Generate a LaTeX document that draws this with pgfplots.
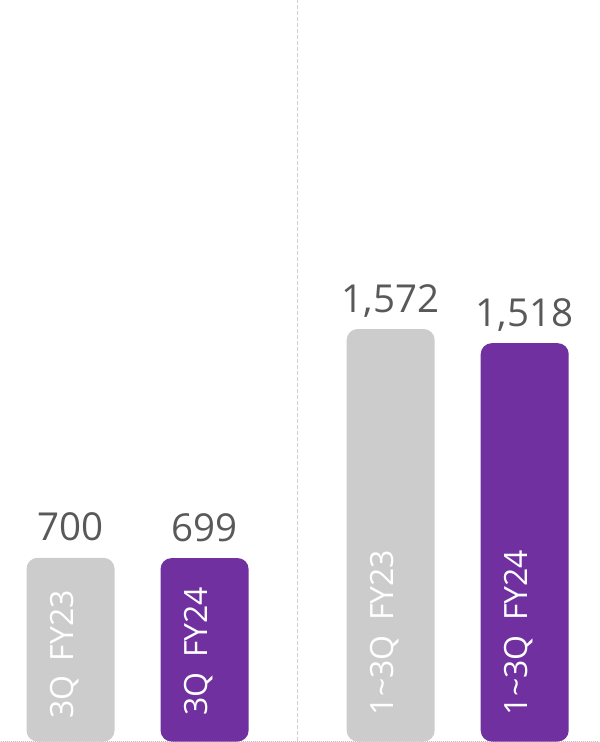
\documentclass[border=0pt]{standalone}
\usepackage{pgfplots}
\pgfplotsset{compat=1.18}
\usepackage{fontspec}
\setmainfont{Open Sans}
\definecolor{barGray}{HTML}{CCCCCC}
\definecolor{barPurple}{HTML}{7030A0}
\definecolor{valGray}{HTML}{595959}
\definecolor{lineGray}{HTML}{D0D0D0}
\begin{document}
\begin{tikzpicture}
\begin{axis}[
  width=598pt, height=742pt, scale only axis,
  xmin=0, xmax=598, ymin=-5, ymax=2824,
  axis lines=none, ticks=none,
  clip=false,
  ybar, bar width=88, bar shift=0pt,
  nodes near coords,
  nodes near coords style={font=\fontsize{38.5}{40}\selectfont, text=valGray, anchor=base, inner sep=0pt, yshift=17pt},
  /pgf/number format/1000 sep={,},
  /pgf/number format/assume math mode=true,
]
\draw[lineGray, dash pattern=on 4pt off 2pt, line width=1pt] (axis cs:297,0) -- (axis cs:297,2824);
\draw[lineGray!80!gray, dash pattern=on 1pt off 1pt, line width=1pt] (axis cs:0,0) -- (axis cs:598,0);
\addplot[fill=barGray, draw=none, rounded corners=11pt] coordinates {(70,700) (390,1572)};
\addplot[fill=barPurple, draw=none, rounded corners=11pt] coordinates {(204,699) (524,1518)};
\begin{scope}[every node/.style={font=\fontsize{32}{34}\selectfont, text=white, rotate=90, anchor=mid west, inner sep=0pt}]
\node at (axis cs:70,85) {3Q\hspace{0.45em}FY23};
\node at (axis cs:204,98) {3Q\hspace{0.45em}FY24};
\node at (axis cs:390,100) {1\textasciitilde 3Q\hspace{0.45em}FY23};
\node at (axis cs:524,100) {1\textasciitilde 3Q\hspace{0.45em}FY24};
\end{scope}
\end{axis}
\end{tikzpicture}
\end{document}
